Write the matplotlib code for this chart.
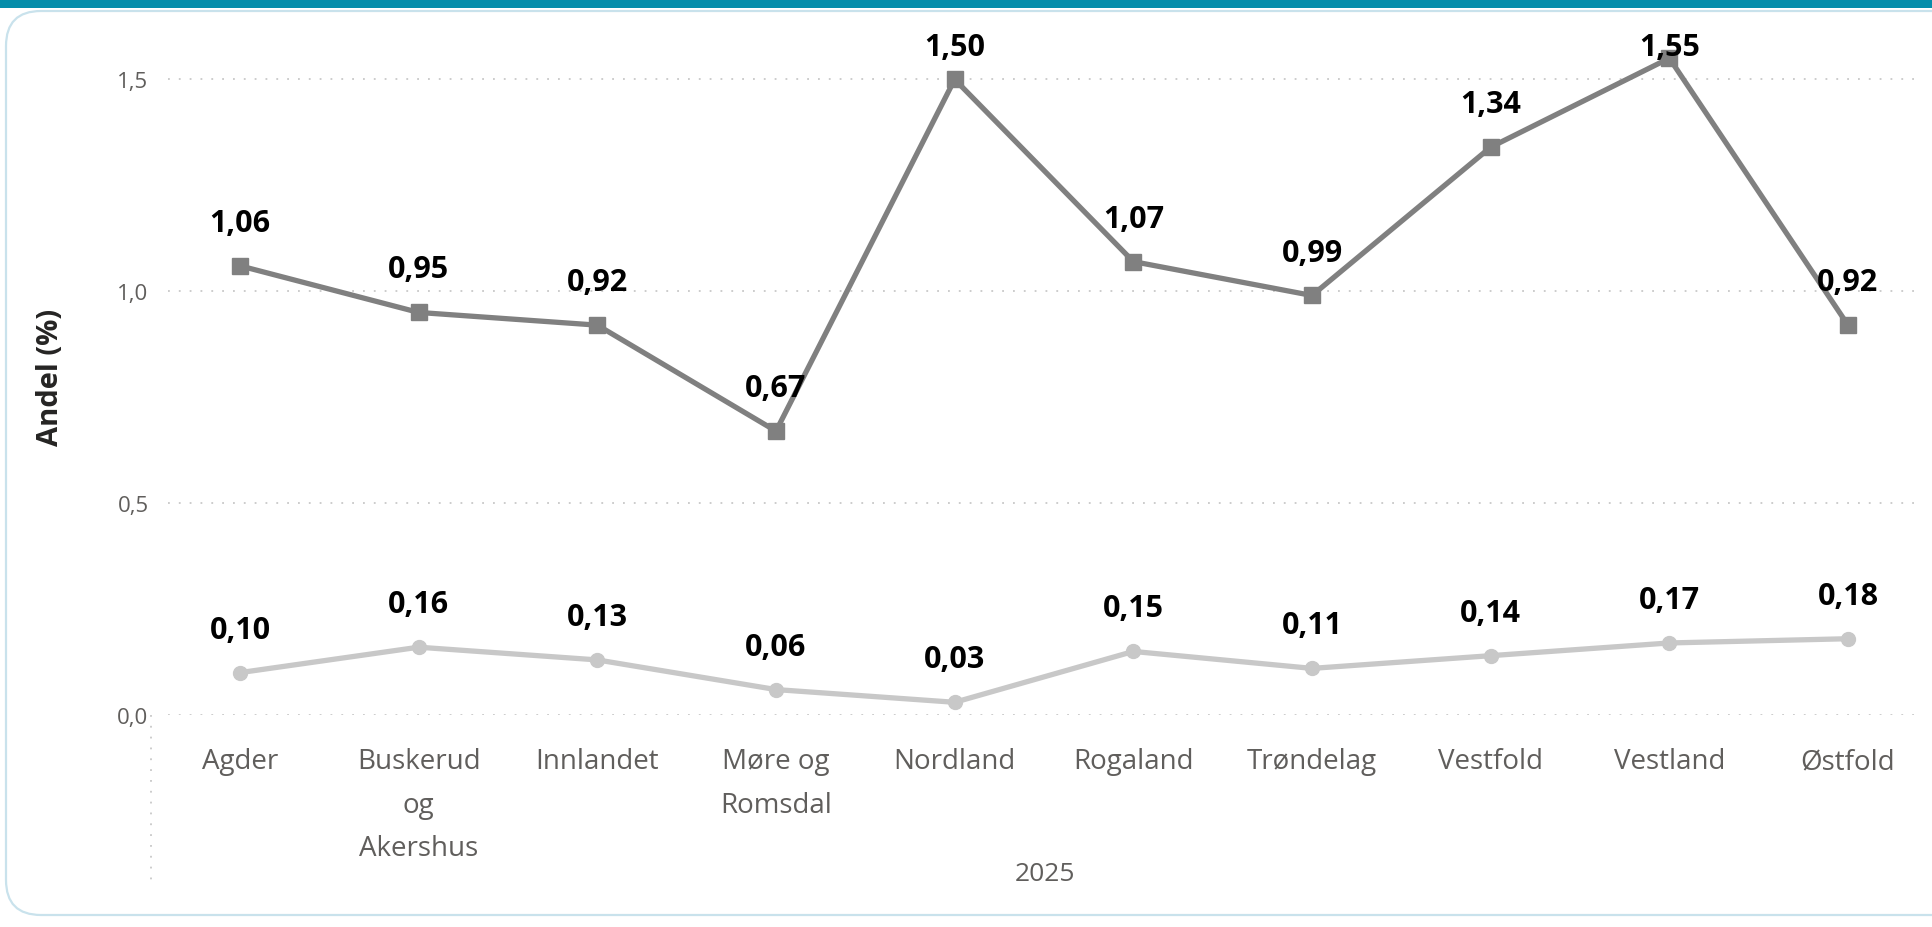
import matplotlib.pyplot as plt
from matplotlib.patches import FancyBboxPatch, Rectangle
from matplotlib.lines import Line2D

plt.rcParams['font.family'] = ['Open Sans', 'DejaVu Sans']

categories = ['Agder', 'Buskerud\nog\nAkershus', 'Innlandet', 'Møre og\nRomsdal', 'Nordland',
              'Rogaland', 'Trøndelag', 'Vestfold', 'Vestland', 'Østfold']
serie_mork = [1.06, 0.95, 0.92, 0.67, 1.50, 1.07, 0.99, 1.34, 1.55, 0.92]
serie_lys = [0.10, 0.16, 0.13, 0.06, 0.03, 0.15, 0.11, 0.14, 0.17, 0.18]
yticks = [0.0, 0.5, 1.0, 1.5]

W, H = 1932, 928
fig = plt.figure(figsize=(W / 100, H / 100), dpi=100)

# card background + top band
fig.patches.append(FancyBboxPatch((0.06, 0.12), 25, 9.28 - 0.24,
                                  boxstyle="round,pad=0,rounding_size=0.35",
                                  transform=fig.dpi_scale_trans, facecolor='white',
                                  edgecolor='#C9E2EC', linewidth=1.6, zorder=0))
fig.patches.append(Rectangle((0, 1 - 9 / H), 1, 9 / H, transform=fig.transFigure,
                             facecolor='#058DAA', edgecolor='none', zorder=1))

ax = fig.add_axes([168 / W, 1 - 716 / H, (1920 - 168) / W, (716 - 38) / H])
ax.set_zorder(3)
ax.patch.set_alpha(0)
x = list(range(len(categories)))

ax.plot(x, serie_mork, color='#808080', linewidth=3.8, marker='s', markersize=11, zorder=3)
ax.plot(x, serie_lys, color='#C8C8C8', linewidth=3.8, marker='o', markersize=10, zorder=3)

off = 0.066
top = 1.542
for xi, v in zip(x, serie_mork):
    ax.text(xi, min(v + off, top), f'{v:.2f}'.replace('.', ','), ha='center', va='bottom',
            fontsize=22, fontweight='bold', color='black', zorder=4)
for xi, v in zip(x, serie_lys):
    ax.text(xi, min(v + off, top), f'{v:.2f}'.replace('.', ','), ha='center', va='bottom',
            fontsize=22, fontweight='bold', color='black', zorder=4)

ax.set_xlim(-0.403, len(categories) - 1 + 0.403)
ax.set_ylim(0, 1.6)
ax.set_yticks(yticks)
ax.set_yticklabels([f'{t:.1f}'.replace('.', ',') for t in yticks])
ax.set_xticks(x)
ax.set_xticklabels(categories, linespacing=1.75)
ax.tick_params(axis='y', length=0, pad=14, labelsize=16, labelcolor='#605E5C')
ax.tick_params(axis='x', length=0, pad=23, labelsize=20, labelcolor='#605E5C')
ax.grid(axis='y', color='#C8C8C8', linestyle=(0, (1, 5)), linewidth=1.3)
for s in ax.spines.values():
    s.set_visible(False)

ax.set_ylabel('Andel (%)', fontsize=21, fontweight='bold', color='#252423')
ax.yaxis.set_label_coords(-(168 - 65) / (1920 - 168), 0.5)

fig.lines.append(Line2D([151 / W, 151 / W], [1 - 716 / H, 1 - 885 / H], transform=fig.transFigure,
                        color='#C8C8C8', linestyle=(0, (1, 5)), linewidth=1.3))
fig.text(1045 / W, 1 - 875 / H, '2025', ha='center', va='center', fontsize=19, color='#605E5C')

fig.savefig('out.png', dpi=100)
